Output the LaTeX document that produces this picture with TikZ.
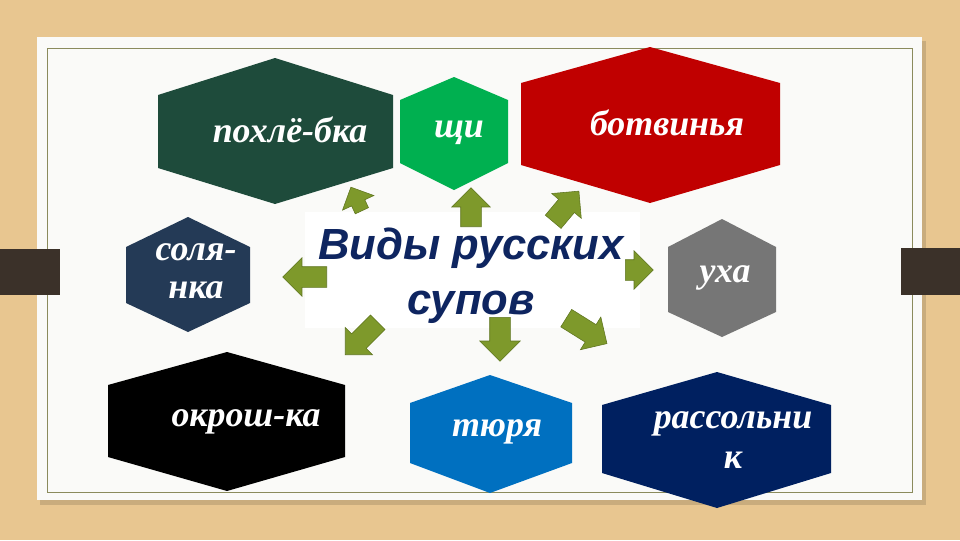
\documentclass[tikz,border=0pt]{standalone}
\usepackage{fontspec}
\setmainfont{Liberation Serif}
\newfontfamily\headfont{Liberation Sans}
\usetikzlibrary{shapes.arrows}

\definecolor{wood}{HTML}{E8C690}
\definecolor{tab}{HTML}{3B3129}
\definecolor{frameline}{HTML}{8B8B5C}
\definecolor{card}{HTML}{FAFAF8}
\definecolor{cpohl}{HTML}{1E4B3B}
\definecolor{cshchi}{HTML}{00B050}
\definecolor{cbotv}{HTML}{C00000}
\definecolor{csol}{HTML}{243A56}
\definecolor{cukha}{HTML}{767676}
\definecolor{cokr}{HTML}{000000}
\definecolor{ctyur}{HTML}{0070C0}
\definecolor{crass}{HTML}{002060}
\definecolor{arrfill}{HTML}{7E992B}
\definecolor{arrline}{HTML}{5F7520}
\definecolor{titlecol}{HTML}{0E2560}

\begin{document}
\begin{tikzpicture}[x=0.025cm, y=-0.025cm,
    lb/.style={text=white, align=center, inner sep=0, font=\fontsize{25.5}{28}\selectfont\bfseries\itshape},
    ar/.style={single arrow, draw=arrline, fill=arrfill, line width=0.4pt, inner sep=0pt,
        inner ysep=0.25cm, minimum width=0pt, single arrow head extend=0.225cm, anchor=tail}]
    \useasboundingbox (0,0) rectangle (960,540);

    % background and card
    \fill[wood] (0,0) rectangle (960,540);
    \fill[black, opacity=.13] (40,41) rectangle (926,505);
    \fill[card] (37,37) rectangle (922,500);
    \draw[frameline, line width=.6pt] (47,48) rectangle (912,492);
    \fill[tab] (0,249) rectangle (60,295);
    \fill[tab] (901,248) rectangle (960,295);

    % hexagons
    \fill[cpohl]  (275,58)  -- (393,95)  -- (393,168) -- (275,204) -- (158,168) -- (158,95)  -- cycle;
    \fill[cshchi] (454,77)  -- (508,100) -- (508,163) -- (454,190) -- (400,163) -- (400,100) -- cycle;
    \fill[cbotv]  (650,47)  -- (780,83)  -- (780,165) -- (650,203) -- (521,165) -- (521,83)  -- cycle;
    \fill[csol]   (188,217) -- (250,247) -- (250,303) -- (188,332) -- (126,303) -- (126,247) -- cycle;
    \fill[cukha]  (722,219) -- (776,247) -- (776,312) -- (722,337) -- (668,312) -- (668,247) -- cycle;
    \fill[cokr]   (227,352) -- (345,385) -- (345,457) -- (227,491) -- (108,457) -- (108,385) -- cycle;
    \fill[ctyur]  (490,375) -- (572,403) -- (572,463) -- (490,493) -- (410,463) -- (410,403) -- cycle;
    \fill[crass]  (717,372) -- (831,405) -- (831,473) -- (717,508) -- (602,473) -- (602,405) -- cycle;

    \node[lb] (pohl) at (290,130) {похлё-бка};
    \node[lb] (shchi) at (459,133) {щи};
    \node[lb] (botv) at (667,123) {ботвинья};
    \node[lb, font=\fontsize{25.5}{27}\selectfont\bfseries\itshape] (sol) at (196,271) {соля-\\нка};
    \node[lb] (ukha) at (725,278) {уха};
    \node[lb] (okr) at (246,422) {окрош-ка};
    \node[lb] (tyur) at (497,432) {тюря};
    \node[lb, font=\fontsize{25.5}{28}\selectfont\bfseries\itshape] (rass) at (733,440) {рассольни\\к};

    % title
    \fill[white] (305,212) rectangle (640,328);
    \node[text=titlecol, align=center, inner sep=0,
        font=\headfont\fontsize{31}{39}\selectfont\bfseries\itshape] (title) at (471,276) {Виды русских\\супов};

    % arrows
    \begin{scope}
        \node[ar, rotate=115, minimum height=0.65cm, inner ysep=0.175cm, single arrow head extend=0.25cm] (tpohl) at (362,211) {};
        \node[ar, rotate=90, minimum height=0.975cm] (tshchi) at (471,227) {};
        \node[ar, rotate=50, minimum height=1cm] (tbotv) at (553,222) {};
        \node[ar, rotate=0, minimum height=0.7cm] (tukha) at (625,270) {};
        \node[ar, rotate=180, minimum height=1.1cm] (tsol) at (327,277) {};
        \node[ar, rotate=225, minimum height=1.15cm] (tokr) at (378,322) {};
        \node[ar, rotate=270, minimum height=1.1cm, single arrow head extend=0.25cm] (ttyur) at (500,317) {};
        \node[ar, rotate=-32, minimum height=1.2cm] (trass) at (566,318) {};
    \end{scope}
\end{tikzpicture}
\end{document}
